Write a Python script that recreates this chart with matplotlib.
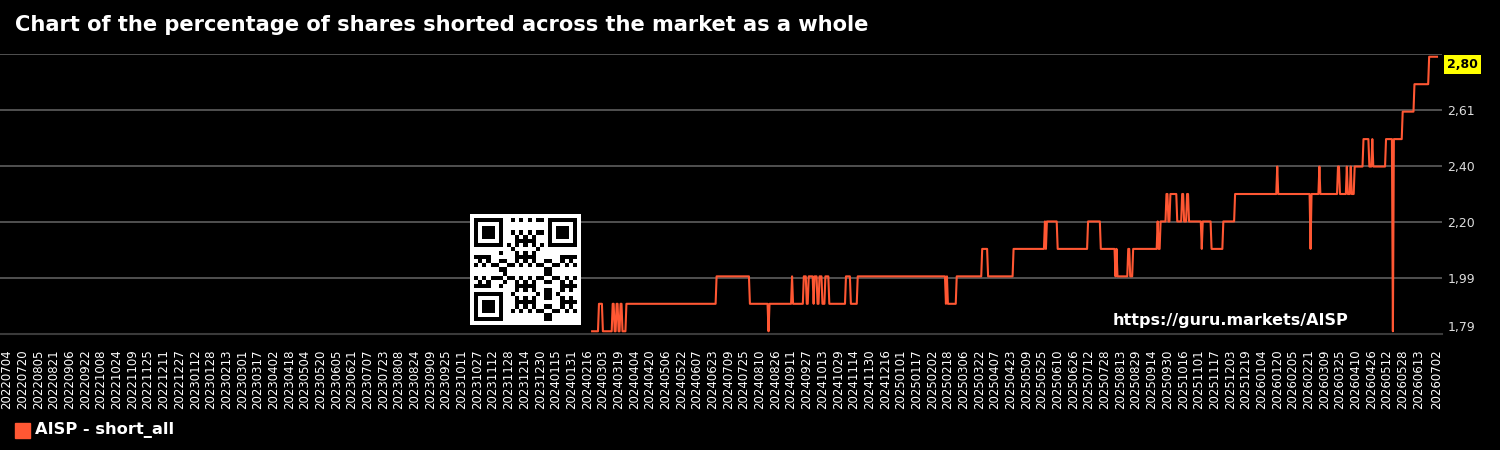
import matplotlib
matplotlib.use('Agg')
import matplotlib.pyplot as plt
from matplotlib.patches import Rectangle
import numpy as np
import pandas as pd

# x축 기간 (달력 일자)
start_date = '20220704'
end_date = '20260702'
tick_step_days = 16

# 값이 바뀌는 날짜와 그때의 값 (short_all, %)
change_dates = [
    '20240221', '20240228', '20240303', '20240313', '20240315', '20240317',
    '20240319', '20240321', '20240323', '20240327', '20240627', '20240731',
    '20240819', '20240820', '20240912', '20240913', '20240924', '20240927',
    '20240929', '20241004', '20241005', '20241008', '20241010', '20241013',
    '20241016', '20241020', '20241106', '20241111', '20241118', '20250216',
    '20250217', '20250218', '20250227', '20250325', '20250331', '20250426',
    '20250528', '20250529', '20250530', '20250610', '20250711', '20250724',
    '20250808', '20250809', '20250810', '20250821', '20250823', '20250826',
    '20250920', '20250921', '20250923', '20250929', '20251001', '20251003',
    '20251010', '20251015', '20251017', '20251020', '20251022', '20251104',
    '20251105', '20251114', '20251126', '20251208', '20260120', '20260121',
    '20260223', '20260224', '20260304', '20260305', '20260323', '20260325',
    '20260401', '20260402', '20260405', '20260406', '20260409', '20260418',
    '20260424', '20260427', '20260428', '20260511', '20260518', '20260519',
    '20260528', '20260609', '20260624',
]
change_values = [
    1.8, 1.9, 1.8, 1.9, 1.8, 1.9,
    1.8, 1.9, 1.8, 1.9, 2.0, 1.9,
    1.8, 1.9, 2.0, 1.9, 2.0, 1.9,
    2.0, 1.9, 2.0, 1.9, 2.0, 1.9,
    2.0, 1.9, 2.0, 1.9, 2.0, 1.9,
    2.0, 1.9, 2.0, 2.1, 2.0, 2.1,
    2.2, 2.1, 2.2, 2.1, 2.2, 2.1,
    2.0, 2.1, 2.0, 2.1, 2.0, 2.1,
    2.2, 2.1, 2.2, 2.3, 2.2, 2.3,
    2.2, 2.3, 2.2, 2.3, 2.2, 2.1,
    2.2, 2.1, 2.2, 2.3, 2.4, 2.3,
    2.1, 2.3, 2.4, 2.3, 2.4, 2.3,
    2.4, 2.3, 2.4, 2.3, 2.4, 2.5,
    2.4, 2.5, 2.4, 2.5, 1.8, 2.5,
    2.6, 2.7, 2.8,
]

y_min, y_max = 1.79, 2.81

title = 'Chart of the percentage of shares shorted across the market as a whole'
legend_label = 'AISP - short_all'
watermark = 'https://guru.markets/AISP'
line_color = '#ff5733'

# 구간 시작/끝 점 만들기
starts = pd.to_datetime(change_dates, format='%Y%m%d')
first = pd.to_datetime(start_date, format='%Y%m%d')
last = pd.to_datetime(end_date, format='%Y%m%d')
ends = list(starts[1:] - pd.Timedelta(days=1)) + [last]
xs, ys = [], []
for s, e, v in zip(starts, ends, change_values):
    xs += [s, e]
    ys += [v, v]

fig = plt.figure(figsize=(15, 4.5), dpi=100, facecolor='black')
ax = fig.add_axes([0, 116 / 450, 1442 / 1500, 280 / 450], facecolor='black')

ax.plot(xs, ys, color=line_color, lw=1.5, zorder=3)

ax.set_xlim(first - pd.Timedelta(days=7.1), last + pd.Timedelta(days=5.1))
ax.set_ylim(y_min, y_max)

# x축 눈금
ticks = list(pd.date_range(first, last, freq=f'{tick_step_days}D'))
if (last - ticks[-1]).days < 8:
    ticks = ticks[:-1]
ticks.append(last)
ax.set_xticks(ticks)
ax.set_xticklabels([t.strftime('%Y%m%d') for t in ticks], rotation=90,
                   fontsize=8.5, color='white')
ax.tick_params(axis='x', length=0, pad=11)

# y축 눈금 (오른쪽)
yticks = np.linspace(y_min, y_max, 6)
ax.set_yticks(yticks)
ylabels = [f'{v:.2f}'.replace('.', ',') for v in yticks]
ylabels[-1] = ''
ax.set_yticklabels(ylabels)
ax.yaxis.tick_right()
ax.tick_params(axis='y', length=0, pad=4, labelsize=9, labelcolor='#dddddd')
ax.get_yticklabels()[0].set_verticalalignment('bottom')
ax.grid(axis='y', color='#5e5e5e', lw=1.2)
ax.set_axisbelow(True)

for sp in ['top', 'left', 'right']:
    ax.spines[sp].set_visible(False)
ax.spines['bottom'].set_color('#3a3a3a')
ax.spines['bottom'].set_linewidth(1.5)

# 마지막 값 강조
last_val = change_values[-1]
ax.annotate(f'{last_val:.2f}'.replace('.', ','), xy=(1, last_val),
            xycoords=('axes fraction', 'data'), xytext=(5, -8),
            textcoords='offset pixels', va='center', ha='left',
            fontsize=9, fontweight='bold', color='black',
            bbox=dict(boxstyle='square,pad=0.22', fc='#ffff00', ec='none'),
            annotation_clip=False)

# 제목, 범례, 워터마크
fig.text(15 / 1500, 1 - 25 / 450, title, color='white', fontsize=15.1,
         fontweight='bold', va='center', ha='left')
fig.add_artist(Rectangle((15 / 1500, 12 / 450), 15 / 1500, 15 / 450,
                         transform=fig.transFigure, color=line_color))
fig.text(35 / 1500, 1 - 430.5 / 450, legend_label, color='white', fontsize=11.7,
         fontweight='bold', va='center', ha='left')
fig.text(1113 / 1500, 1 - 320 / 450, watermark, color='white', fontsize=11.5,
         fontweight='bold', va='center', ha='left')

# QR 코드 모양 (장식)
n = 25
ii, jj = np.mgrid[0:n, 0:n]
qr = (((ii * ii * 7 + jj * jj * 3 + ii * jj * 11 + ii + jj * 5) % 11) < 5).astype(int)
for r, c in [(0, 0), (0, n - 7), (n - 7, 0)]:
    r0, c0 = max(r - 1, 0), max(c - 1, 0)
    qr[r0:r0 + 9, c0:c0 + 9] = 0
    qr[r:r + 7, c:c + 7] = 1
    qr[r + 1:r + 6, c + 1:c + 6] = 0
    qr[r + 2:r + 5, c + 2:c + 5] = 1
qr[6, 8:n - 8] = np.arange(n - 16) % 2 == 0
qr[8:n - 8, 6] = np.arange(n - 16) % 2 == 0
qr = np.pad(qr, 1)
qax = fig.add_axes([470 / 1500, 1 - 325 / 450, 110 / 1500, 111 / 450])
qax.imshow(qr, cmap='gray_r', interpolation='nearest', aspect='auto')
qax.axis('off')

fig.savefig('out.png', dpi=100, facecolor='black')
